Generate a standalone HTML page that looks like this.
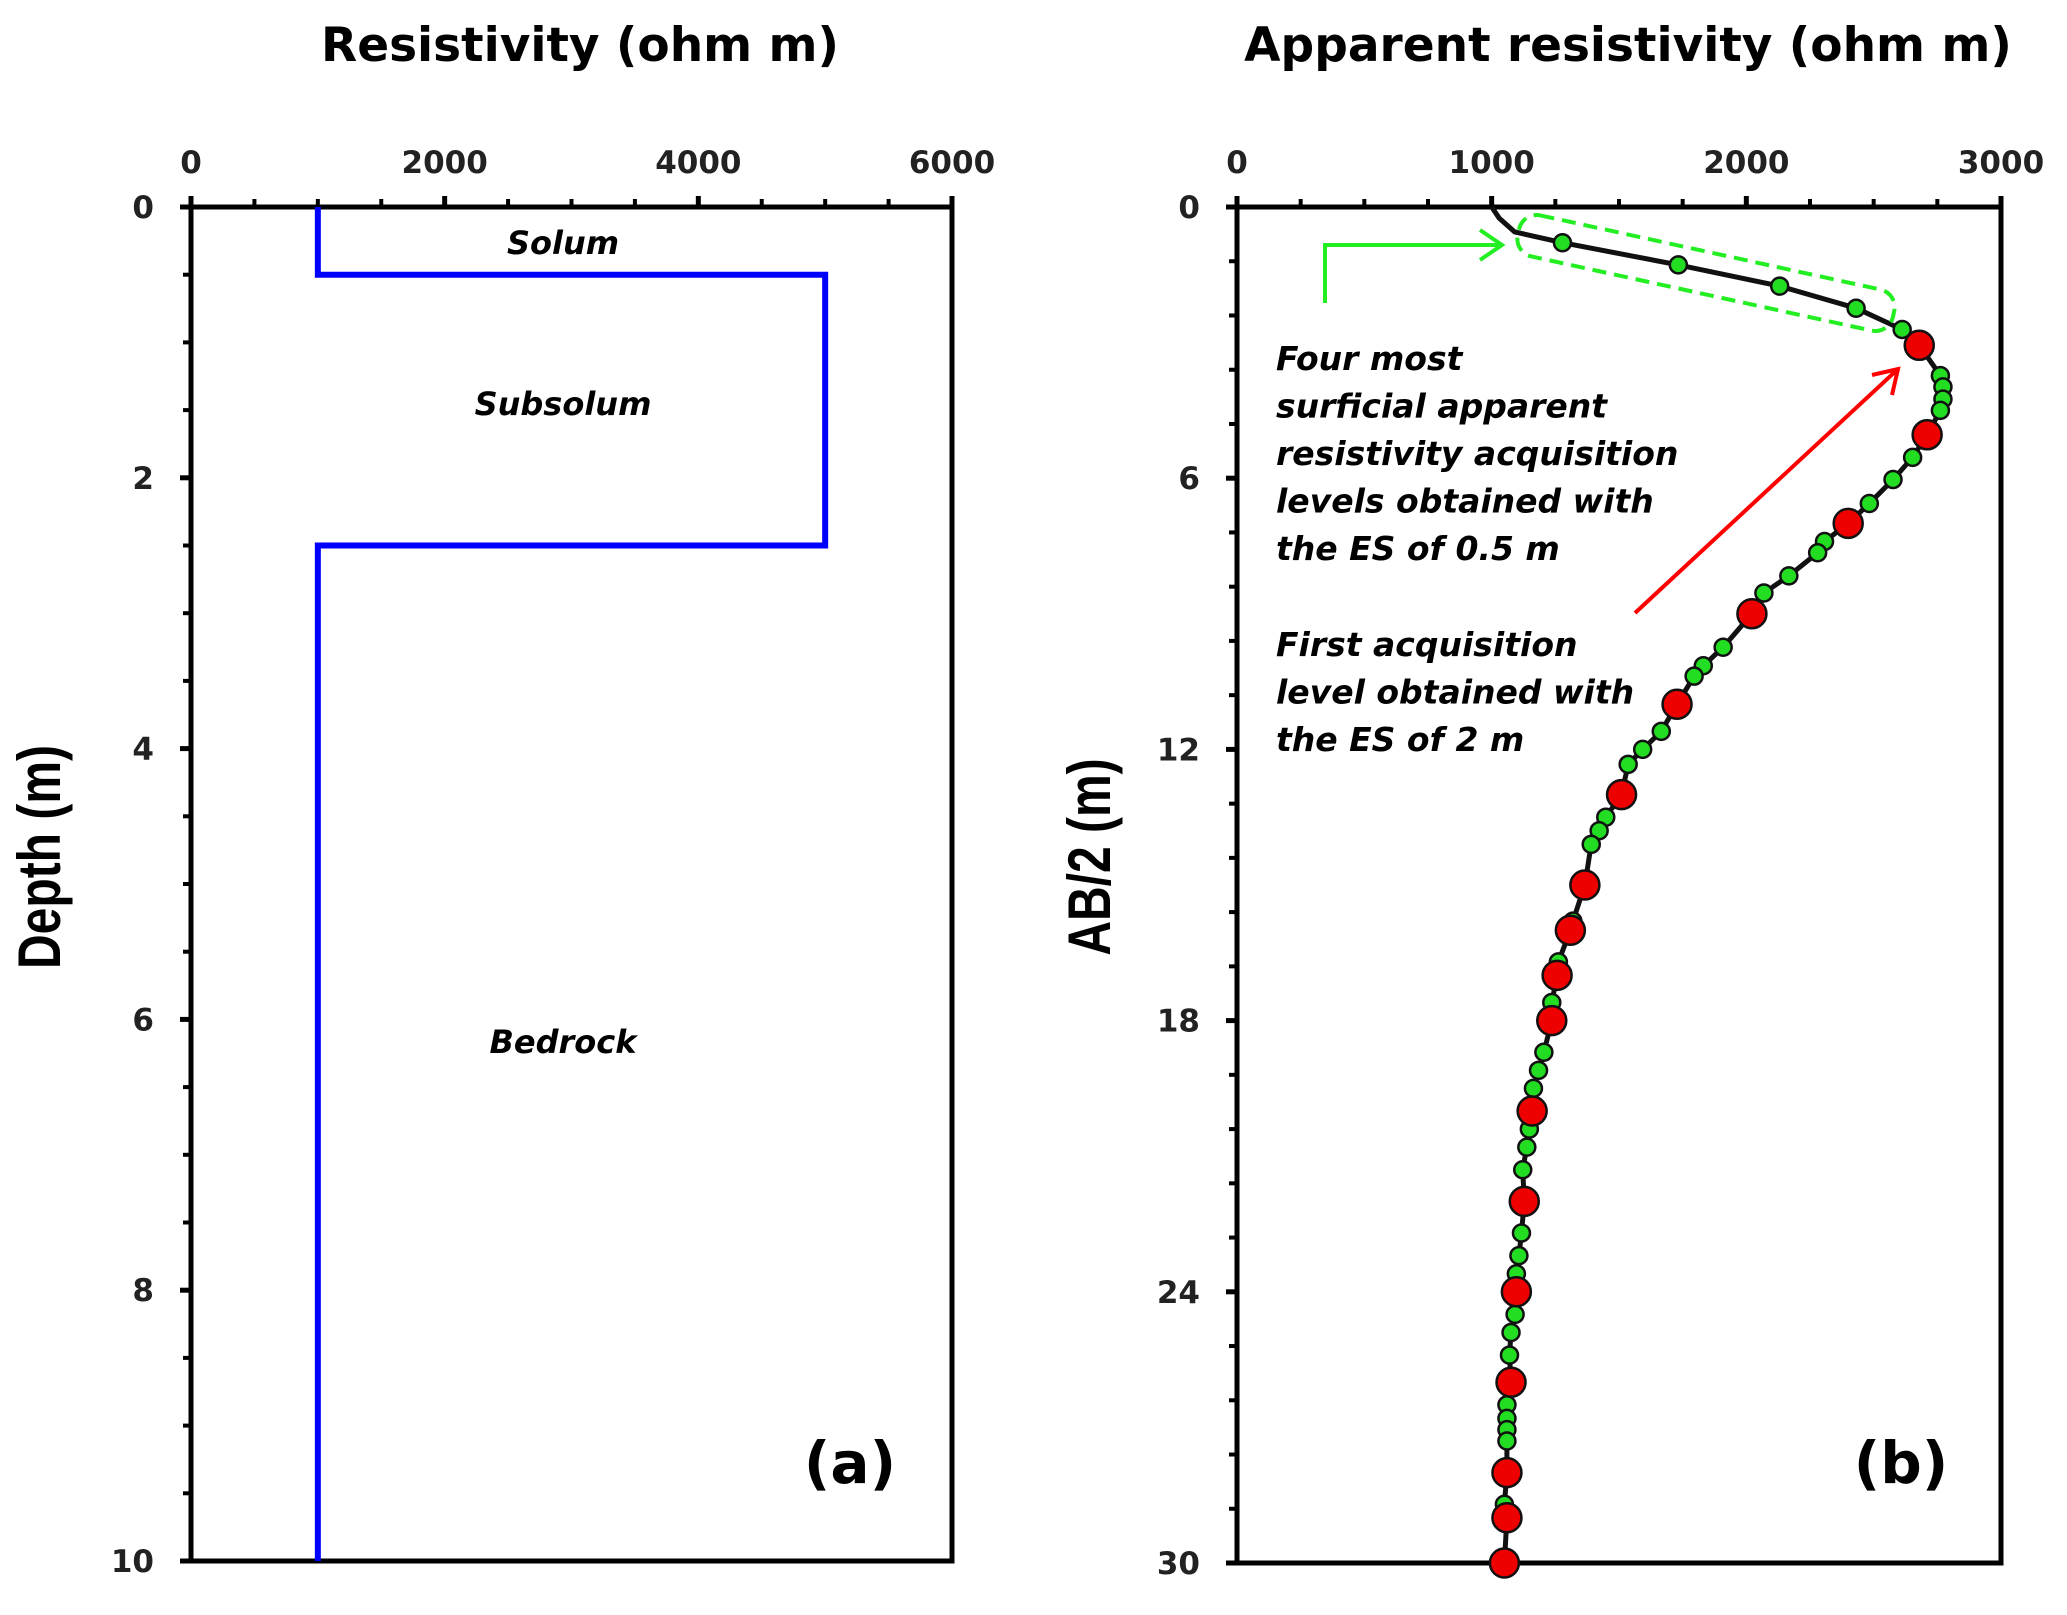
<!DOCTYPE html>
<html><head><meta charset="utf-8"><style>
html,body{margin:0;padding:0;background:#fff;}
svg{display:block;font-family:"DejaVu Sans","Liberation Sans",Arial,sans-serif;}
</style></head><body>
<svg id="fig" width="2067" height="1615" viewBox="0 0 2067 1615" xmlns="http://www.w3.org/2000/svg">
<g id="pa"></g>
<g id="pb"></g>
</svg>
<script>
// Panel (a) data
const layerRes = [1000, 5000, 1000];
const layerTop = [0, 0.5, 2.5];
const layerBottom = [0.5, 2.5, 10];
const aXTicks = [0, 2000, 4000, 6000];
const aYTicks = [0, 2, 4, 6, 8, 10];
// Panel (b) data
const bLineStart = [[1000, 0], [1030, 0.25], [1090, 0.55]];
const esHalfRes = [1278, 1733, 2131, 2431];
const esHalfDepth = [0.79, 1.28, 1.75, 2.24];
const greenRes = [2612,2762,2772,2772,2762,2653,2576,2483,2307,2280,2167,2069,1909,1831,1795,1666,1593,1536,1448,1422,1391,1319,1262,1236,1205,1184,1164,1148,1138,1122,1117,1107,1097,1092,1076,1070,1060,1060,1060,1060,1050];
const greenDepth = [2.71,3.73,3.98,4.25,4.5,5.54,6.03,6.56,7.4,7.65,8.16,8.54,9.74,10.15,10.38,11.6,12.0,12.33,13.5,13.8,14.1,15.8,16.7,17.6,18.7,19.1,19.5,20.4,20.8,21.3,22.7,23.2,23.6,24.5,24.9,25.4,26.5,26.8,27.05,27.3,28.7];
const redRes = [2679,2710,2400,2022,1728,1510,1366,1309,1257,1236,1159,1128,1097,1076,1060,1060,1050];
const redDepth = [3.06,5.04,7.0,9.0,11.0,13.0,15.0,16.0,17.0,18.0,20.0,22.0,24.0,26.0,28.0,29.0,30.0];
const bXTicks = [0, 1000, 2000, 3000];
const bYTicks = [0, 6, 12, 18, 24, 30];

const NS = "http://www.w3.org/2000/svg";
function mk(parent, tag, attrs, txt){
  const e = document.createElementNS(NS, tag);
  for (const k in attrs) e.setAttribute(k, attrs[k]);
  if (txt !== undefined) e.textContent = txt;
  parent.appendChild(e); return e;
}
function axes(g, L, R, T, B, xMax, yMax, xMinor, yMinor, xT, yT){
  const sx = v => L + v / xMax * (R - L);
  const sy = v => T + v / yMax * (B - T);
  for (let v = 0; v <= xMax + 1e-6; v += xMinor){
    const major = xT.some(t => Math.abs(t - v) < 1e-6);
    const t = mk(g, 'line', {x1:sx(v), x2:sx(v), y1:T, y2:T-(major?11:8), stroke:'#000','stroke-width':major?5:4});
    
    
  }
  for (let v = 0; v <= yMax + 1e-6; v += yMinor){
    const major = yT.some(t => Math.abs(t - v) < 1e-6);
    const t = mk(g, 'line', {x1:L, x2:L-(major?11:8), y1:sy(v), y2:sy(v), stroke:'#000','stroke-width':major?5:4});
    
    
  }
  const fr = mk(g, 'rect', {x:L, y:T, width:R-L, height:B-T, fill:'none', stroke:'#000', 'stroke-width':5});
  
  
  xT.forEach(v => {
    const t = mk(g, 'text', {x:sx(v), y:173, 'text-anchor':'middle', 'font-size':31, 'font-weight':'bold', fill:'#222'}, String(v));
    
    
  });
  yT.forEach(v => {
    const t = mk(g, 'text', {x:L-37, y:sy(v)+11, 'text-anchor':'end', 'font-size':31, 'font-weight':'bold', fill:'#222'}, String(v));
    
    
  });
  return [sx, sy];
}
function label(g, name, x, y, size, txt, extra){
  const a = Object.assign({x:x, y:y, 'text-anchor':'middle', 'font-size':size, 'font-weight':'bold', fill:'#000'}, extra||{});
  const t = mk(g, 'text', a, txt);
  
  
  return t;
}

// ---------- Panel A ----------
const ga = document.getElementById('pa');
const [ax, ay] = axes(ga, 191, 952, 207, 1561, 6000, 10, 500, 0.5, aXTicks, aYTicks);
let d = '';
layerRes.forEach((r, i) => {
  d += (i === 0 ? 'M' : 'L') + ax(r) + ' ' + ay(layerTop[i]) + ' L' + ax(r) + ' ' + ay(layerBottom[i]) + ' ';
});
const prof = mk(ga, 'path', {d:d, fill:'none', stroke:'#0000ff', 'stroke-width':6});


label(ga, 'x-axis-title', 580, 61, 47, 'Resistivity (ohm m)');
label(ga, 'y-axis-title', 0, 0, 60, 'Depth (m)', {transform:'translate(60,857) rotate(-90) scale(0.8,1)', 'font-family':'Liberation Sans, sans-serif'});
label(ga, 'solum-label', 563, 254, 32, 'Solum', {'font-style':'italic'});
label(ga, 'subsolum-label', 563, 415, 32, 'Subsolum', {'font-style':'italic'});
label(ga, 'bedrock-label', 563, 1053, 32, 'Bedrock', {'font-style':'italic'});
label(ga, 'panel-a-label', 850, 1483, 58, '(a)');

// ---------- Panel B ----------
const gb = document.getElementById('pb');
const [bx, by] = axes(gb, 1237, 2001, 207, 1563, 3000, 30, 250, 1.2, bXTicks, bYTicks);
const pts = [];
bLineStart.forEach(p => pts.push(p));
esHalfRes.forEach((r, i) => pts.push([r, esHalfDepth[i]]));
greenRes.forEach((r, i) => pts.push([r, greenDepth[i]]));
redRes.forEach((r, i) => pts.push([r, redDepth[i]]));
pts.sort((a, b) => a[1] - b[1]);
const line = mk(gb, 'path', {d: pts.map((p, i) => (i ? 'L' : 'M') + bx(p[0]).toFixed(1) + ' ' + by(p[1]).toFixed(1)).join(' '), fill:'none', stroke:'#111', 'stroke-width':5, 'stroke-linejoin':'round'});


esHalfRes.concat(greenRes).forEach((r, i) => {
  const dd = i < esHalfRes.length ? esHalfDepth[i] : greenDepth[i - esHalfRes.length];
  const c = mk(gb, 'circle', {cx:bx(r), cy:by(dd), r:8.5, fill:'#22dd22', stroke:'#111', 'stroke-width':2.5});
  
  
});
redRes.forEach((r, i) => {
  const c = mk(gb, 'circle', {cx:bx(r), cy:by(redDepth[i]), r:14.5, fill:'#ee0000', stroke:'#111', 'stroke-width':2.5});
  
  
});
const box = mk(gb, 'rect', {x:-192, y:-21, width:384, height:42, rx:18, fill:'none', stroke:'#22ee22', 'stroke-width':4, 'stroke-dasharray':'14 8', transform:'translate(1706,273) rotate(12.3)'});


const ga1 = mk(gb, 'path', {d:'M1325 303 L1325 245 L1502 245 M1480 230 L1502 245 L1480 260', fill:'none', stroke:'#22ee22', 'stroke-width':4});


const ra = mk(gb, 'path', {d:'M1635 613 L1898 369 M1872 375 L1898 369 L1892 395', fill:'none', stroke:'#ff0000', 'stroke-width':4});


const note1 = ['Four most','surficial apparent','resistivity acquisition','levels obtained with','the ES of 0.5 m'];
note1.forEach((s, i) => label(gb, 'annotation-es-half', 1276, 370 + i * 47.5, 33, s, {'text-anchor':'start', 'font-style':'italic'}));
const note2 = ['First acquisition','level obtained with','the ES of 2 m'];
note2.forEach((s, i) => label(gb, 'annotation-es-two', 1276, 656 + i * 47.5, 33, s, {'text-anchor':'start', 'font-style':'italic'}));
label(gb, 'x-axis-title', 1628, 61, 47, 'Apparent resistivity (ohm m)');
label(gb, 'y-axis-title', 0, 0, 60, 'AB/2 (m)', {transform:'translate(1110,857) rotate(-90) scale(0.8,1)', 'font-family':'Liberation Sans, sans-serif'});
label(gb, 'panel-b-label', 1901, 1483, 58, '(b)');
</script>
</body></html>
